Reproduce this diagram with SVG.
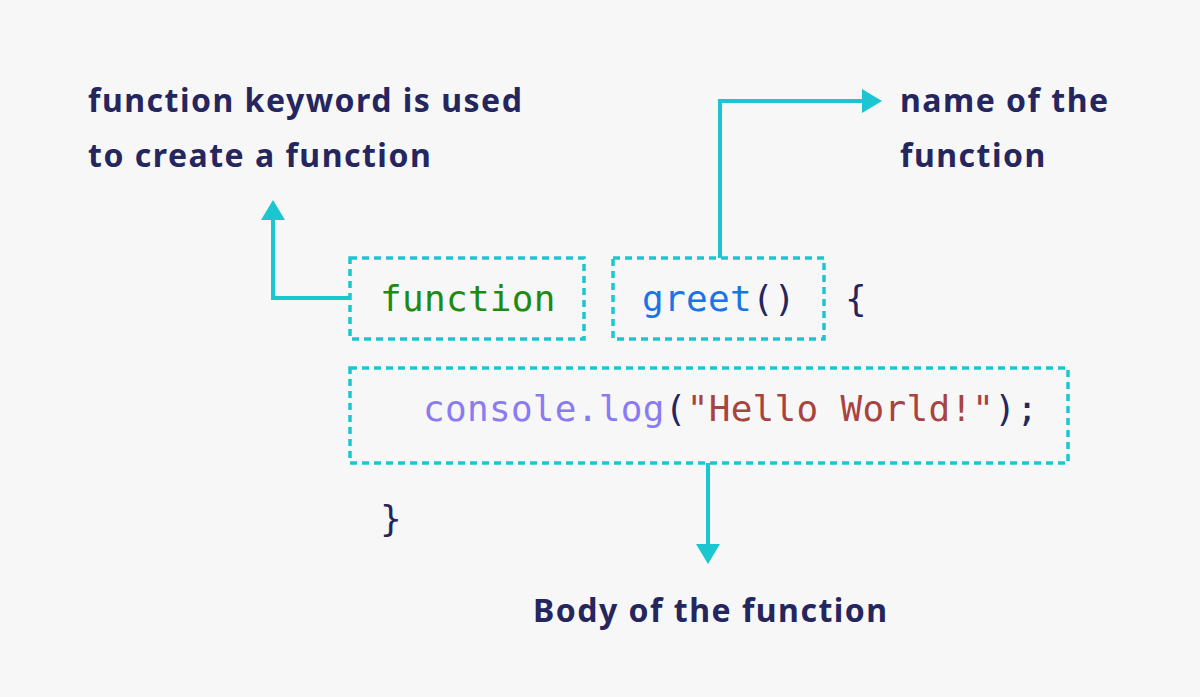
<svg xmlns="http://www.w3.org/2000/svg" width="1200" height="697" viewBox="0 0 1200 697">
<style>
.lbl{font-family:"Noto Sans","Liberation Sans",sans-serif;font-weight:bold;font-size:32px;letter-spacing:1.5px;fill:#25265e}
.code{font-family:"DejaVu Sans Mono","Liberation Mono",monospace;font-size:36px;letter-spacing:0.3px}
.box{fill:none;stroke:#1cc6d0;stroke-width:3.5;stroke-dasharray:7,5}
.con{fill:none;stroke:#1cc6d0;stroke-width:4}
</style>
<defs><marker id="ah" markerWidth="6" markerHeight="6" refX="1" refY="3" orient="auto" markerUnits="strokeWidth"><path d="M0,0 L5,3 L0,6z" fill="#1cc6d0"/></marker></defs>
<rect width="1200" height="697" fill="#f7f7f7"/>
<g id="connectors">
<path class="con" d="M350,298 H273 V216" marker-end="url(#ah)"/>
<path class="con" d="M720,258 V101 H866" marker-end="url(#ah)"/>
<path class="con" d="M708,463 V548" marker-end="url(#ah)"/>
</g>
<g id="keyword"><rect class="box" x="350" y="258" width="234" height="81"/><text class="code" x="380" y="311" fill="#1e8a14">function</text></g>
<g id="name"><rect class="box" x="613" y="258" width="211" height="81"/><text class="code" x="642" y="311"><tspan fill="#1a73e8">greet</tspan><tspan fill="#25265e">()</tspan></text></g>
<text class="code" x="845" y="311" fill="#25265e">{</text>
<g id="body"><rect class="box" x="350" y="368" width="718" height="95"/><text class="code" x="423" y="421"><tspan fill="#8a7cf0">console.log</tspan><tspan fill="#25265e">(</tspan><tspan fill="#a8433f">"Hello World!"</tspan><tspan fill="#25265e">);</tspan></text></g>
<text class="code" x="380" y="531" fill="#25265e">}</text>
<g id="lbl-keyword"><text class="lbl" x="88" y="112">function keyword is used</text><text class="lbl" x="88" y="167">to create a function</text></g>
<g id="lbl-name"><text class="lbl" x="900" y="112">name of the</text><text class="lbl" x="900" y="167">function</text></g>
<g id="lbl-body"><text class="lbl" x="533" y="622">Body of the function</text></g>
</svg>
